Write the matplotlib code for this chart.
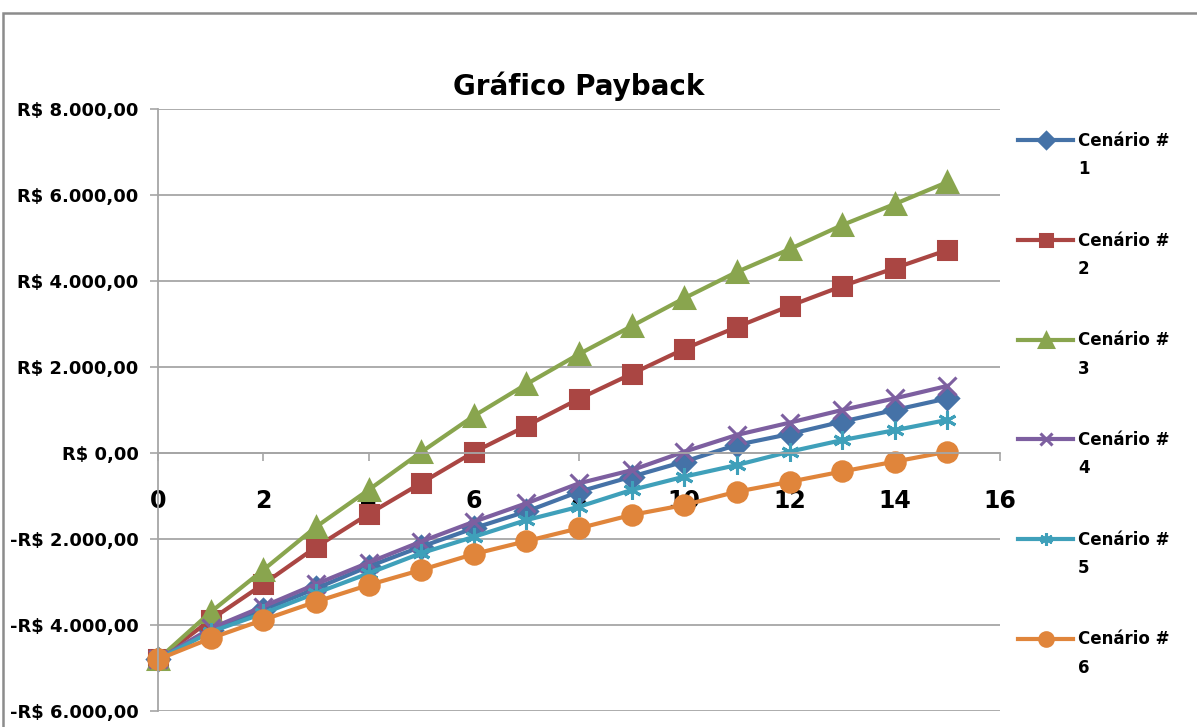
import matplotlib
matplotlib.use("Agg")
import matplotlib.pyplot as plt
from matplotlib.patches import Rectangle
from matplotlib.ticker import FuncFormatter, MultipleLocator

# Dados (fluxo acumulado por periodo)
periodos = list(range(16))
cenario1 = [-4800, -4120, -3650, -3150, -2640, -2180, -1750, -1360, -900, -550, -200, 190, 440, 730, 1000, 1270]
cenario2 = [-4800, -3880, -3050, -2190, -1420, -700, 20, 630, 1260, 1840, 2420, 2930, 3420, 3880, 4300, 4720]
cenario3 = [-4800, -3700, -2720, -1720, -860, 20, 860, 1600, 2300, 2950, 3600, 4210, 4740, 5300, 5790, 6300]
cenario4 = [-4800, -4080, -3570, -3050, -2550, -2060, -1600, -1170, -705, -400, 30, 420, 705, 1000, 1270, 1560]
cenario5 = [-4800, -4160, -3730, -3260, -2800, -2330, -1950, -1560, -1250, -860, -550, -280, 30, 300, 530, 770]
cenario6 = [-4800, -4310, -3880, -3460, -3070, -2720, -2350, -2050, -1750, -1440, -1210, -900, -670, -430, -200, 30]

series = [cenario1, cenario2, cenario3, cenario4, cenario5, cenario6]
rotulos = ["1", "2", "3", "4", "5", "6"]
cores = ["#4572A7", "#AA4643", "#89A54E", "#7D5FA0", "#3FA0BA", "#E0853B"]
marcadores = ["D", "s", "^", "x", (6, 2, 0), "o"]
tamanhos = [11, 13, 14, 13, 13, 14]

plt.rcParams["font.family"] = "DejaVu Sans"

fig = plt.figure(figsize=(11.97, 7.27), dpi=100)
ax = fig.add_axes([158 / 1197, 1 - 711 / 727, (1000 - 158) / 1197, (711 - 109) / 727])

# Linhas
for s, c, m, t in zip(series, cores, marcadores, tamanhos):
    ax.plot(periodos, s, color=c, lw=3, marker=m, markersize=t,
            markeredgecolor=c, markeredgewidth=2.2, clip_on=False, label="Cenário #")

# Eixos
ax.set_xlim(0, 16)
ax.set_ylim(-6000, 8000)
ax.xaxis.set_major_locator(MultipleLocator(2))
ax.yaxis.set_major_locator(MultipleLocator(2000))


def formata_reais(v, pos):
    v = int(round(v))
    txt = f"{abs(v):,}".replace(",", ".") + ",00"
    return ("-R$ " if v < 0 else "R$ ") + txt


ax.yaxis.set_major_formatter(FuncFormatter(formata_reais))
ax.grid(axis="y", color="#A6A6A6", lw=1.3)
ax.set_axisbelow(True)

for lado in ["top", "right"]:
    ax.spines[lado].set_visible(False)
ax.spines["bottom"].set_position(("data", 0))
ax.spines["bottom"].set_color("#A6A6A6")
ax.spines["bottom"].set_linewidth(1.3)
ax.spines["left"].set_color("#A6A6A6")
ax.spines["left"].set_linewidth(1.3)

ax.tick_params(axis="y", direction="out", length=6, width=1.2, color="#A6A6A6",
               labelsize=13, pad=8)
ax.tick_params(axis="x", direction="out", length=6, width=1.2, color="#A6A6A6",
               labelsize=17, pad=20)
for lbl in ax.get_yticklabels() + ax.get_xticklabels():
    lbl.set_fontweight("bold")

# Titulo
fig.text((158 + 1000) / 2 / 1197, 1 - 86 / 727, "Gráfico Payback",
         ha="center", va="center", fontsize=20, fontweight="bold")

# Legenda
leg = ax.legend(loc="upper left", bbox_to_anchor=(1018 / 1197, 1 - 132 / 727),
                bbox_transform=fig.transFigure, frameon=False, fontsize=12,
                prop={"weight": "bold", "size": 12}, handlelength=3.3,
                handletextpad=0.3, labelspacing=4.9, borderpad=0,
                borderaxespad=0, markerscale=0.7, numpoints=1)
for txt, r in zip(leg.texts, rotulos):
    ax.annotate(r, xy=(0, 0), xycoords=txt, xytext=(0, -7.5),
                textcoords="offset points", va="top", ha="left",
                fontsize=12, fontweight="bold", zorder=10, annotation_clip=False)

# Moldura do grafico
fig.add_artist(Rectangle((3 / 1197, -0.05), 1.1, 1 - 13 / 727 + 0.05,
                         transform=fig.transFigure, fill=False,
                         edgecolor="#8C8C8C", lw=1.8))

plt.savefig("out.png", dpi=100)
